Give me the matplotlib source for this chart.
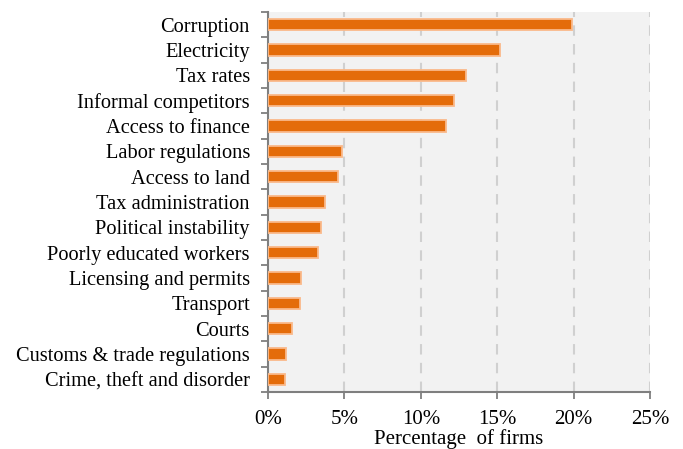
import matplotlib
matplotlib.use("Agg")
import matplotlib.pyplot as plt
from matplotlib.ticker import FixedLocator

# obstacles, top to bottom as in the chart
obstacles = [
    "Corruption",
    "Electricity",
    "Tax rates",
    "Informal competitors",
    "Access to finance",
    "Labor regulations",
    "Access to land",
    "Tax administration",
    "Political instability",
    "Poorly educated workers",
    "Licensing and permits",
    "Transport",
    "Courts",
    "Customs & trade regulations",
    "Crime, theft and disorder",
]
share_pct = [19.9, 15.2, 12.95, 12.2, 11.65, 4.85, 4.6, 3.7, 3.45, 3.3, 2.15, 2.1, 1.6, 1.2, 1.1]
x_ticks = [0, 5, 10, 15, 20, 25]

plt.rcParams["font.family"] = ["Liberation Serif", "DejaVu Serif"]

fig = plt.figure(figsize=(6.83, 4.49), dpi=100)
ax = fig.add_axes([0.3924, 0.127, 0.5593, 0.846])
ax.set_facecolor("#f2f2f2")

n = len(obstacles)
ypos = list(range(n))[::-1]
ax.barh(ypos, share_pct, height=0.45, color="#e46c0a",
        edgecolor="#fab98a", linewidth=1.3, zorder=3)

ax.set_xlim(0, 25)
ax.set_ylim(-0.5, n - 0.5)

ax.set_yticks(ypos)
ax.set_yticklabels(obstacles, fontsize=14.7)
ax.yaxis.set_minor_locator(FixedLocator([i - 0.5 for i in range(n + 1)]))
ax.tick_params(axis="y", which="major", length=0, pad=13)
ax.tick_params(axis="y", which="minor", length=5, width=1.3, color="#7f7f7f")

ax.set_xticks(x_ticks)
ax.set_xticklabels([f"{t}%" for t in x_ticks], fontsize=15)
ax.tick_params(axis="x", length=5, width=1.3, color="#7f7f7f", pad=8)
ax.set_xlabel("Percentage  of firms", fontsize=15, labelpad=0)

ax.grid(axis="x", color="#d0d0d0", linestyle=(0, (5, 4)), linewidth=1.5, zorder=0)

for side in ["top", "right"]:
    ax.spines[side].set_visible(False)
for side in ["left", "bottom"]:
    ax.spines[side].set_color("#7f7f7f")
    ax.spines[side].set_linewidth(1.5)

fig.savefig("out.png", dpi=100)
